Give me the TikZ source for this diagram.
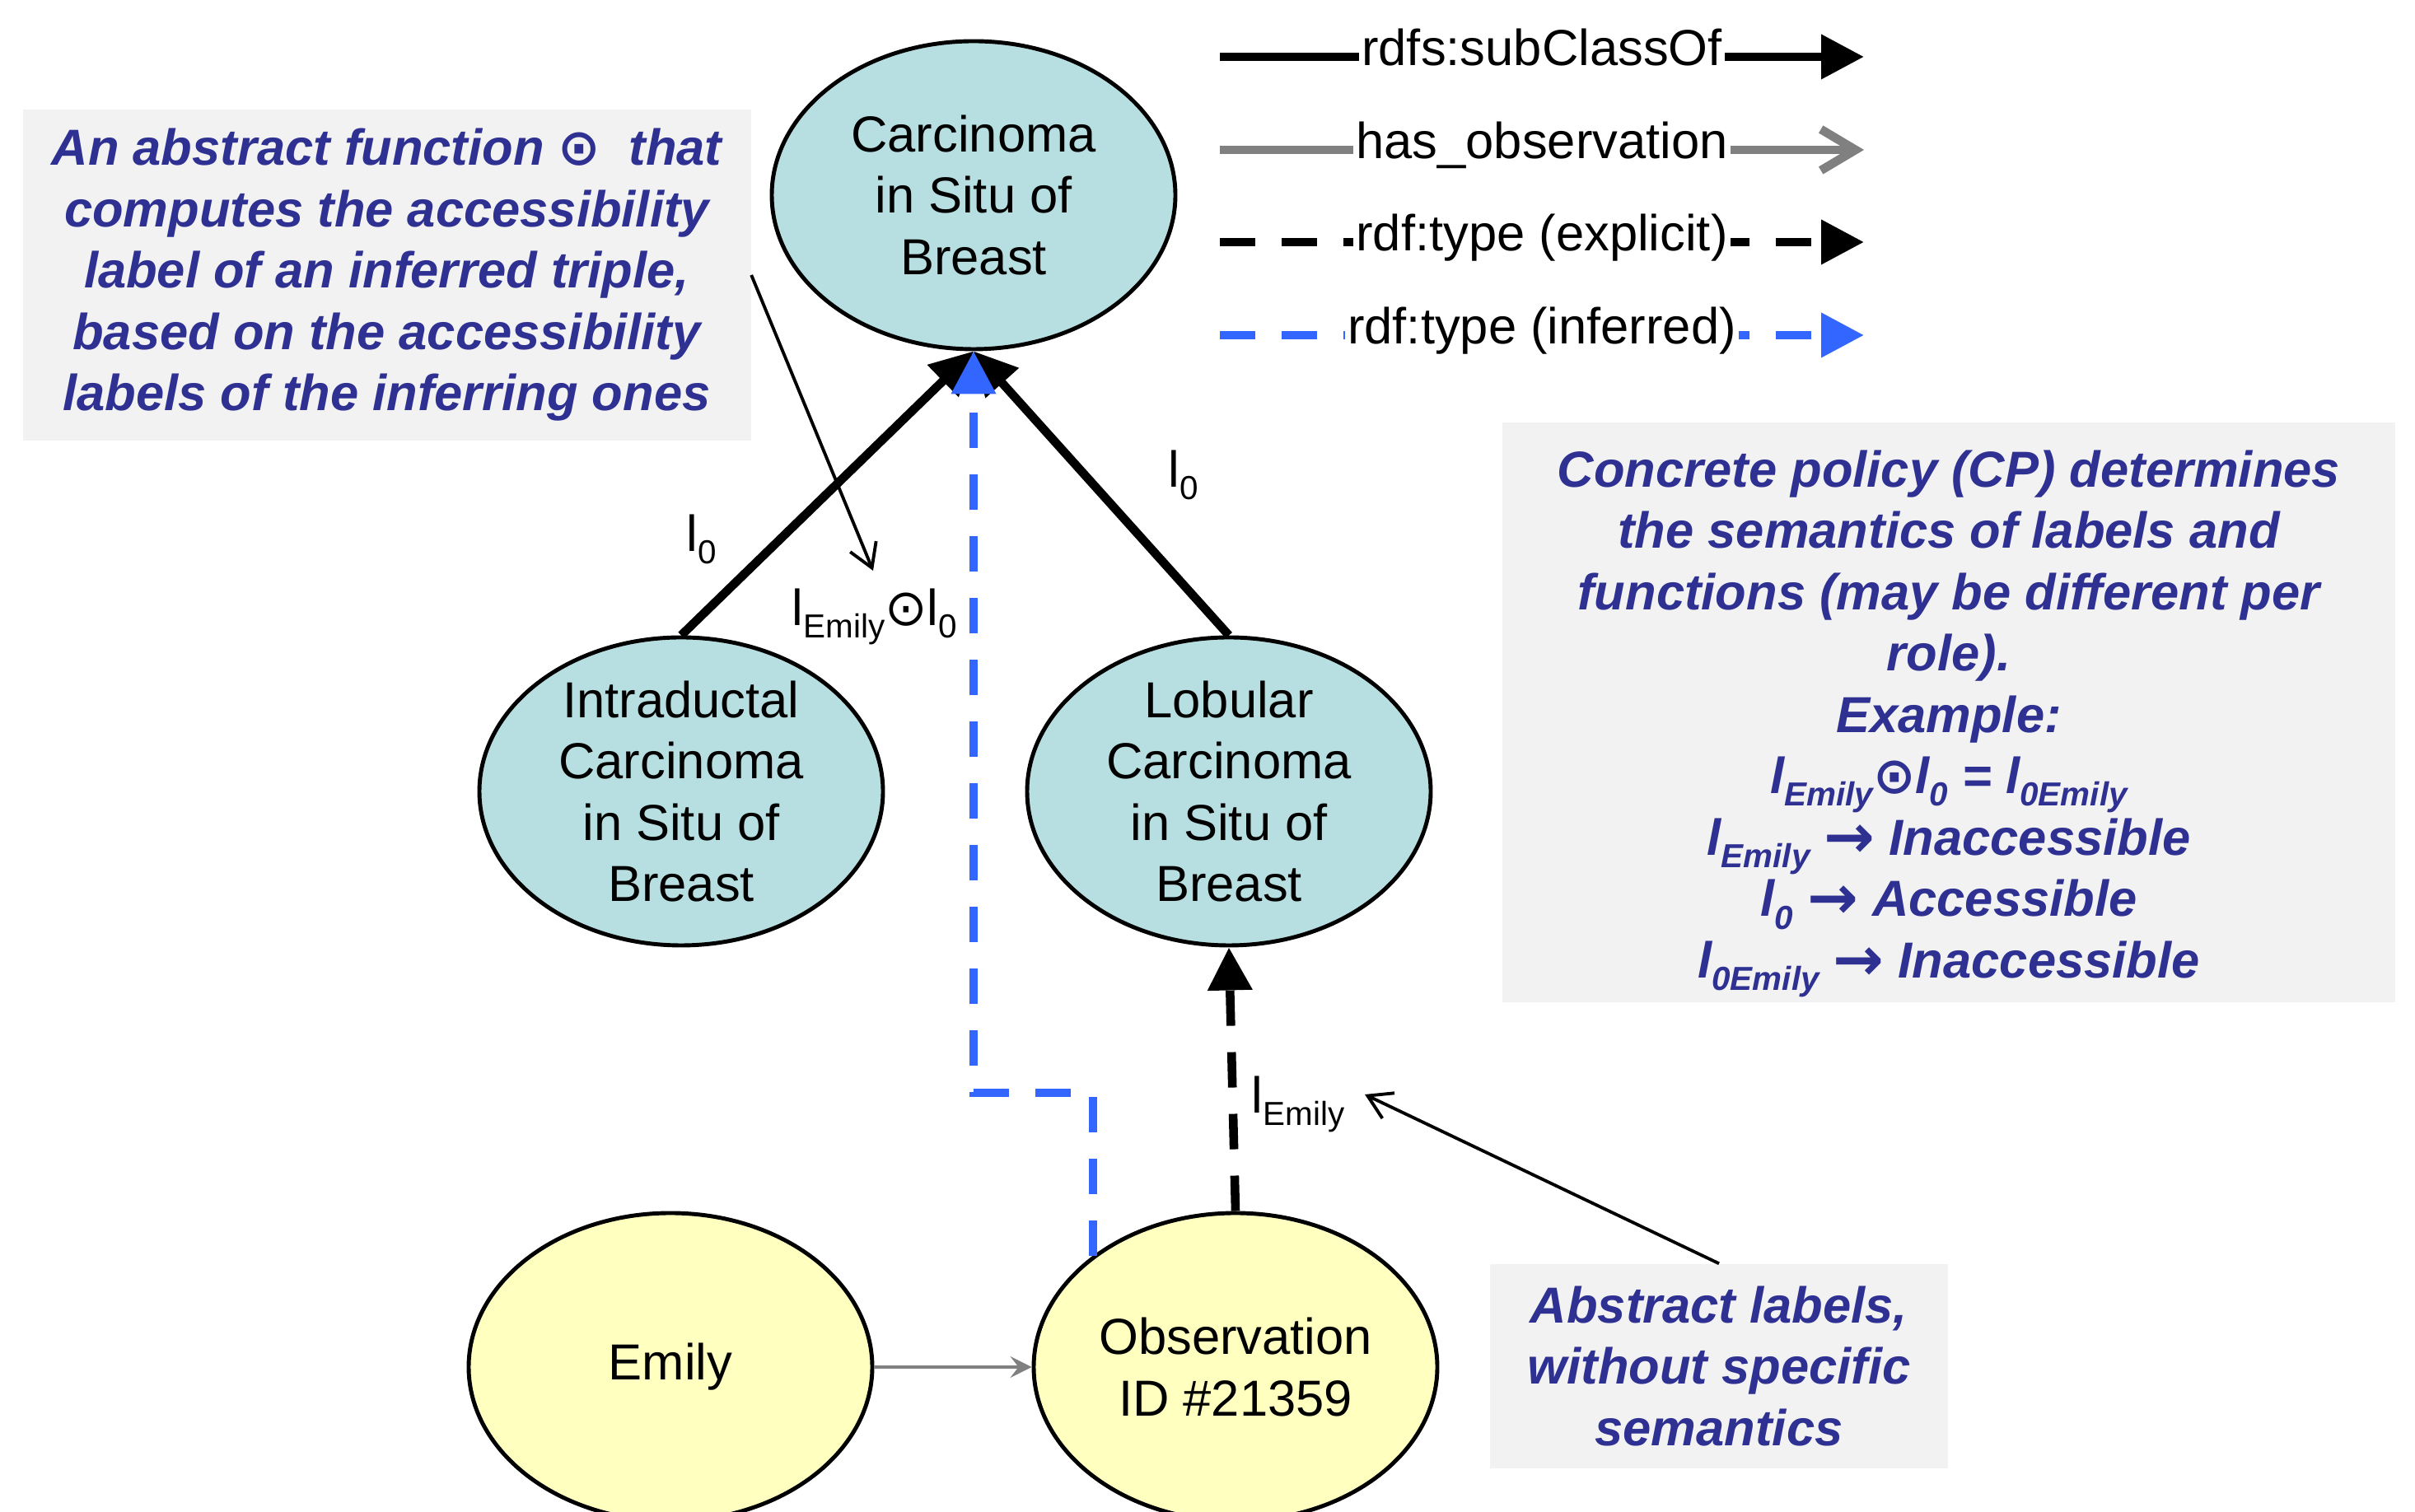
\documentclass[tikz,border=0pt]{standalone}
\usepackage{fontspec}
\setmainfont{Liberation Sans}
\newfontfamily\symfont{DejaVu Sans}
\usetikzlibrary{arrows.meta,positioning,shapes.geometric,calc}

\definecolor{classfill}{RGB}{183,222,224}
\definecolor{indivfill}{RGB}{255,255,192}
\definecolor{notefill}{RGB}{242,242,242}
\definecolor{notetext}{RGB}{46,49,146}
\definecolor{inferblue}{RGB}{51,102,255}

\newcommand{\basesize}{\fontsize{17.5pt}{21.2pt}\selectfont}
\newcommand{\lsub}[1]{\raisebox{-0.25em}{\fontsize{11.5pt}{12pt}\selectfont #1}}
\newcommand{\fodot}{{\symfont ⊙}}
\newcommand{\farrow}{\raisebox{-0.05em}{\symfont\fontsize{21pt}{21pt}\selectfont →}}

\begin{document}
\begin{tikzpicture}[
                font=\basesize,
                every node/.style={align=center},
                classnode/.style={ellipse, draw=black, line width=1.4pt, fill=classfill,
                        minimum width=4.9cm, minimum height=3.74cm, inner sep=-0.15cm},
                indivnode/.style={ellipse, draw=black, line width=1.4pt, fill=indivfill,
                        minimum width=4.9cm, minimum height=3.74cm, inner sep=-0.15cm},
                notebox/.style={rectangle, fill=notefill, text=notetext, inner sep=0pt,
                        font=\basesize\bfseries\itshape},
                legtext/.style={fill=white, inner xsep=1pt, inner ysep=2pt, anchor=base, yshift=-0.11cm},
                subcls/.style={line width=3pt, -{Triangle[length=0.52cm,width=0.52cm]}},
                hasobs/.style={draw=gray, line width=1pt, -{Stealth[length=0.26cm,width=0.26cm,inset=0.1cm]}},
                hasobsleg/.style={draw=gray, line width=3pt, -{Straight Barb[length=0.42cm,width=0.5cm]}},
                explicit/.style={line width=3pt, dash pattern=on 0.43cm off 0.32cm,
                        -{Triangle[length=0.52cm,width=0.52cm]}},
                inferred/.style={explicit, draw=inferblue},
                callout/.style={line width=1.1pt, -{Straight Barb[length=0.28cm,width=0.34cm]}},
            ]
            \useasboundingbox (0,0) rectangle (29.32,18.36);

            % legend
            \coordinate (legS1) at (14.81,17.67);
            \coordinate (legE1) at (22.63,17.67);
            \coordinate (legS2) at (14.81,16.54);
            \coordinate (legE2) at (22.63,16.54);
            \coordinate (legS3) at (14.81,15.42);
            \coordinate (legE3) at (22.63,15.42);
            \coordinate (legS4) at (14.81,14.29);
            \coordinate (legE4) at (22.63,14.29);
            \draw[subcls] (legS1) -- node[midway, legtext] (legT1) {rdfs:subClassOf} (legE1);
            \draw[hasobsleg] (legS2) -- node[midway, legtext] (legT2) {has\_observation} (legE2);
            \draw[explicit] (legS3) -- node[midway, legtext] (legT3) {rdf:type (explicit)} (legE3);
            \draw[inferred] (legS4) -- node[midway, legtext] (legT4) {rdf:type (inferred)} (legE4);

            % classes and individuals
            \node[classnode] (carc) at (11.82,15.99) {Carcinoma\\in Situ of\\Breast};
            \node[classnode] (intra) at (8.27,8.75) {Intraductal\\Carcinoma\\in Situ of\\Breast};
            \node[classnode] (lobu) at (14.92,8.75) {Lobular\\Carcinoma\\in Situ of\\Breast};
            \node[indivnode] (emily) at (8.14,1.76) {Emily};
            \node[indivnode] (obs) at (15.00,1.76) {Observation\\ID \#21359};

            \draw[subcls] (intra.north) -- (carc.south);
            \draw[subcls] (lobu.north) -- (carc.south);
            \draw[explicit] (obs.north) -- (lobu.south);
            \draw[hasobs] (emily) -- (obs);
            \coordinate (bend) at (11.82,5.09);
            \draw[inferred] (obs.142) |- (bend) -- (carc.south);

            % accessibility labels
            \node (labA) at (8.52,11.81) {l\lsub{0}};
            \node (labB) at (14.37,12.59) {l\lsub{0}};
            \node (labInf) at (10.62,10.87) {l\lsub{Emily}\fodot l\lsub{0}};
            \node (labExp) at (15.76,4.95) {l\lsub{Emily}};

            % notes
            \node[notebox, minimum width=8.84cm, minimum height=4.02cm] (fnote) at (4.695,15.02)
                {An abstract function \fodot~ that\\
                computes the accessibility\\
                label of an inferred triple,\\
                based on the accessibility\\
                labels of the inferring ones};
            \node[notebox, minimum width=10.84cm, minimum height=7.04cm] (cpnote) at (23.66,9.71)
                {\rule{0pt}{0.72cm}Concrete policy (CP) determines\\
                the semantics of labels and\\
                functions (may be different per\\
                role).\\
                Example:\\
                l\lsub{Emily}\fodot l\lsub{0} = l\lsub{0Emily}\\
                l\lsub{Emily} \farrow{} Inaccessible\\
                l\lsub{0} \farrow{} Accessible\\
                l\lsub{0Emily} \farrow{} Inaccessible};
            \node[notebox, minimum width=5.56cm, minimum height=2.48cm] (absnote) at (20.87,1.77)
                {Abstract labels,\\
                without specific\\
                semantics};

            \coordinate (fnoteTip) at (10.60,11.43);
            \coordinate (absTip) at (16.57,5.07);
            \draw[callout] (fnote.east) -- (fnoteTip);
            \draw[callout] (absnote.north) -- (absTip);

        \end{tikzpicture}
\end{document}
